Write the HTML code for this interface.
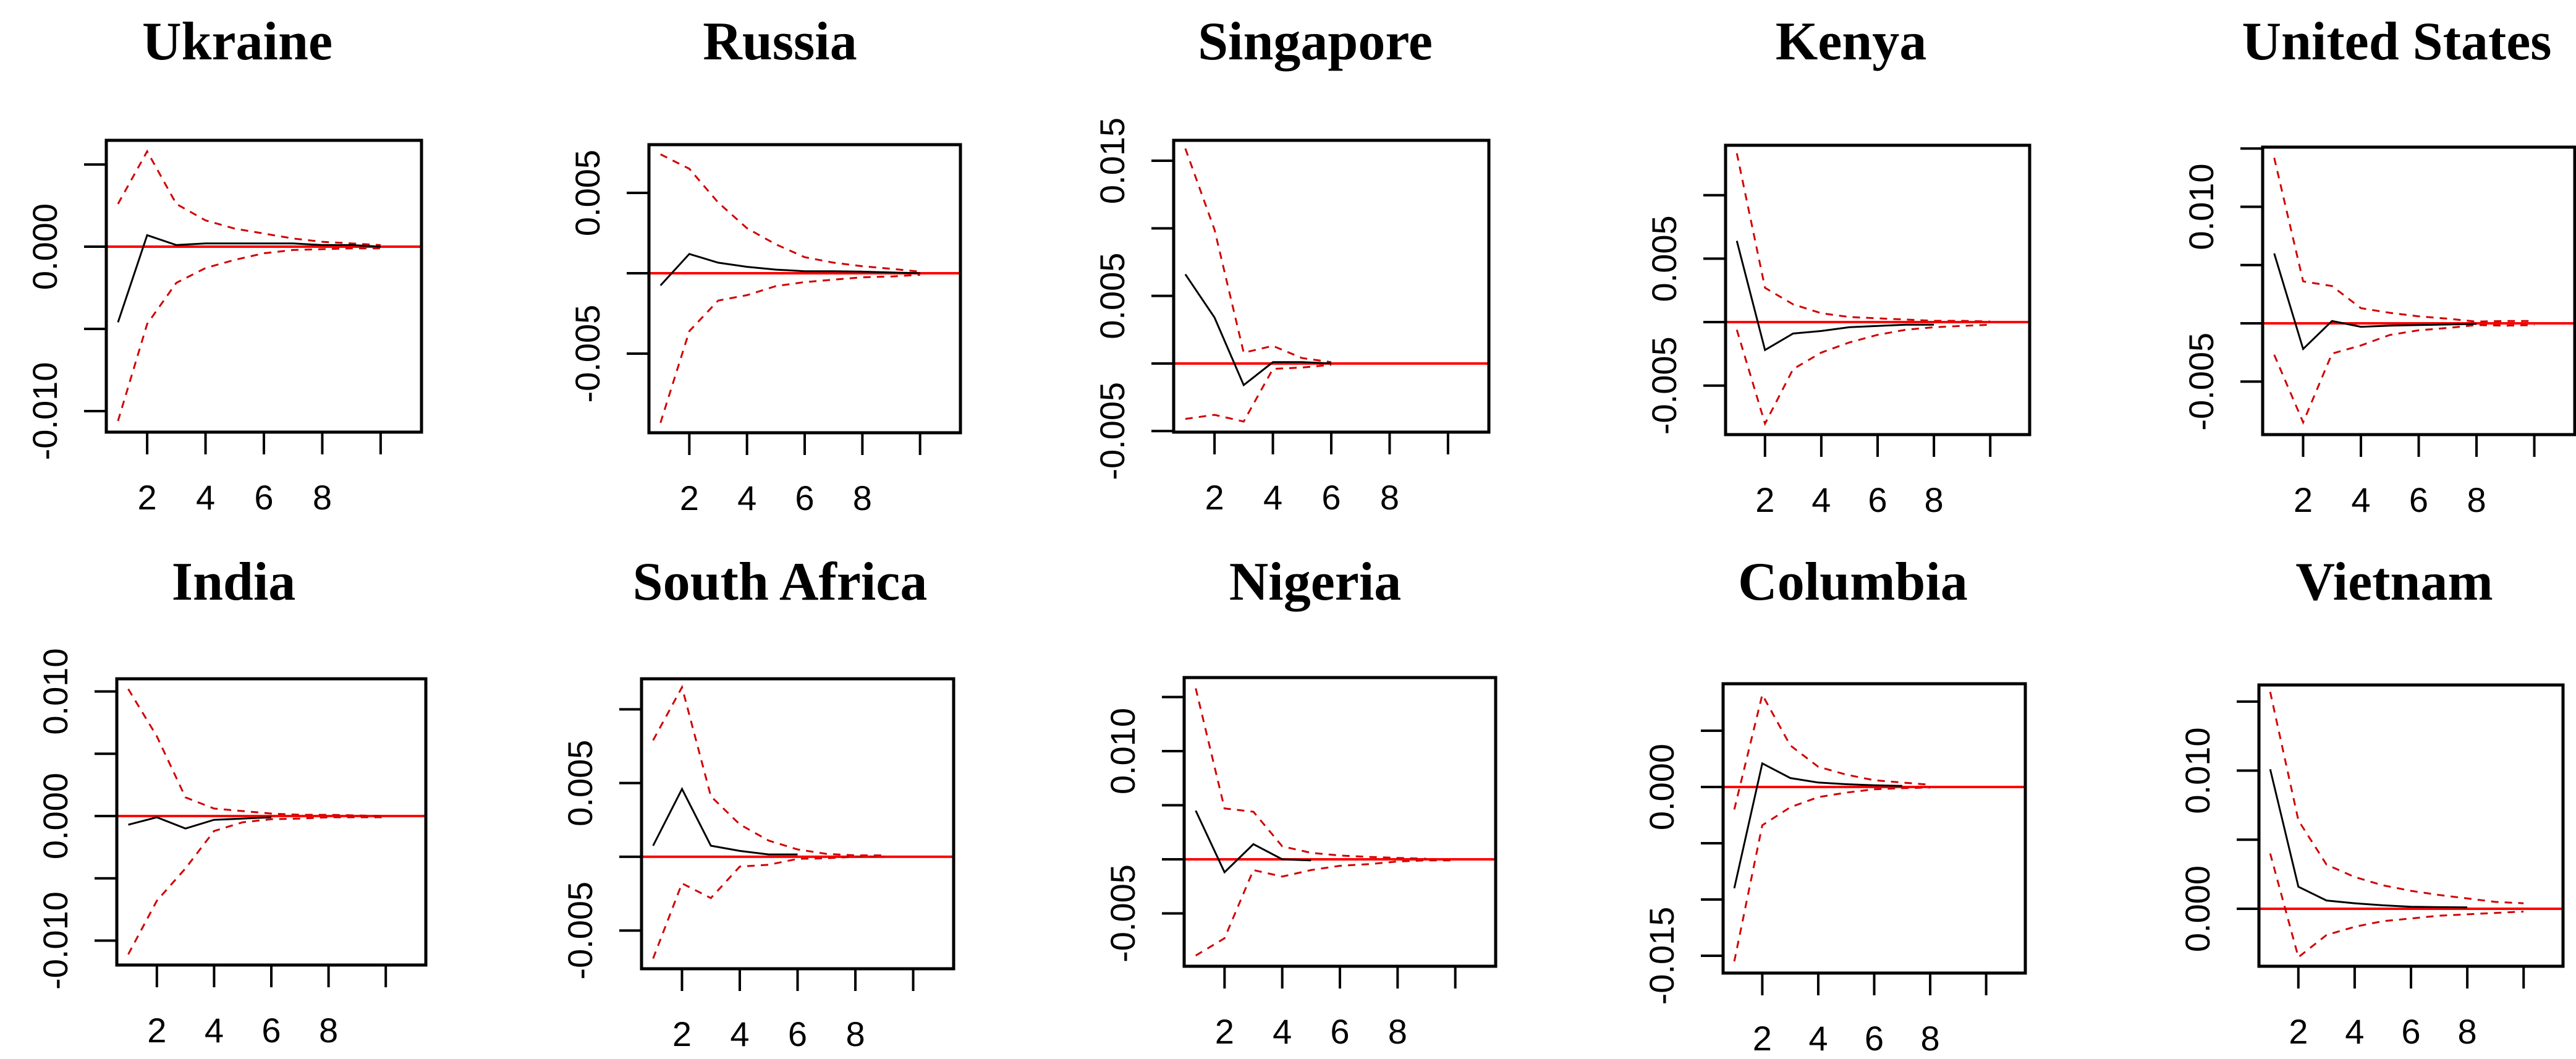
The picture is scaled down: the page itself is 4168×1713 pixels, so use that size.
<!DOCTYPE html>
<html><head><meta charset="utf-8"><style>
html,body{margin:0;padding:0;background:#fff;}
svg{display:block;}
</style></head><body>
<svg id="fig" width="4168" height="1713" viewBox="0 0 4168 1713" xmlns="http://www.w3.org/2000/svg">
<rect width="4168" height="1713" fill="#fff"/>
</svg>
<script>
const countries = ["Ukraine","Russia","Singapore","Kenya","United States","India","South Africa","Nigeria","Columbia","Vietnam"];
const periods = [1,2,3,4,5,6,7,8,9,10];
const xTicks = [2,4,6,8,10];
const xTickLabels = ["2","4","6","8",""];
const respUkraine = [-0.0046,0.0007,0.0001,0.0002,0.0002,0.0002,0.0002,0.0001,0.0001,0.0];
const upUkraine = [0.0026,0.0058,0.0026,0.0016,0.0011,0.0008,0.0005,0.0003,0.0002,0.0001];
const loUkraine = [-0.0106,-0.0047,-0.0022,-0.0013,-0.0008,-0.0004,-0.0002,-0.00015,-0.0001,-0.0001];
const respRussia = [-0.00076,0.0012,0.00066,0.0004,0.00023,0.00013,0.00013,0.0001,0.00005,0.0];
const upRussia = [0.0074,0.0065,0.0044,0.0028,0.0018,0.001,0.00066,0.00044,0.00028,0.0001];
const loRussia = [-0.0093,-0.0036,-0.0017,-0.00136,-0.0008,-0.00055,-0.0004,-0.00025,-0.0002,-0.0001];
const respSingapore = [0.0066,0.0034,-0.0016,0.0001,0.0001,0.0];
const upSingapore = [0.0159,0.0099,0.0008,0.0013,0.0004,0.0001];
const loSingapore = [-0.0041,-0.0038,-0.0043,-0.0004,-0.0003,-0.0001];
const respKenya = [0.0064,-0.0022,-0.0009,-0.0007,-0.0004,-0.0003,-0.0002,-0.0002];
const upKenya = [0.0133,0.0027,0.0014,0.0007,0.0004,0.0003,0.0002,0.0001,0.0001,0.00005];
const loKenya = [-0.0006,-0.008,-0.0037,-0.0024,-0.0016,-0.001,-0.0006,-0.0004,-0.0003,-0.0002];
const respUS = [0.006,-0.0022,0.0002,-0.0003,-0.0002,-0.00015,-0.0001,-0.00005];
const upUS = [0.0142,0.0036,0.0032,0.0013,0.0009,0.0006,0.0004,0.00015,0.0002,0.0002];
const loUS = [-0.0027,-0.0085,-0.0026,-0.0019,-0.001,-0.0006,-0.0004,-0.00015,-0.0002,-0.00015];
const respIndia = [-0.0007,-0.0001,-0.001,-0.0003,-0.0002,-0.0001];
const upIndia = [0.0102,0.0064,0.0015,0.0006,0.0004,0.0002,0.0001,0.0001,0.00005,0.0];
const loIndia = [-0.0111,-0.0068,-0.0042,-0.0012,-0.0005,-0.00025,-0.0002,-0.0001,-0.0001,-0.0001];
const respSAfrica = [0.00075,0.0046,0.00075,0.0004,0.00016,0.00016];
const upSAfrica = [0.0079,0.0115,0.0041,0.0022,0.0011,0.0005,0.0002,0.0001,0.0001];
const loSAfrica = [-0.0069,-0.0018,-0.0028,-0.00066,-0.00054,-0.00014,-0.0001,0.0,0.0];
const respNigeria = [0.0045,-0.0012,0.0014,0.0,-0.0001];
const upNigeria = [0.0158,0.0047,0.0044,0.0012,0.0006,0.00035,0.00022,0.00013,0.00005];
const loNigeria = [-0.0089,-0.0073,-0.001,-0.0016,-0.001,-0.0006,-0.00045,-0.0002,-0.0001,-0.0001];
const respColumbia = [-0.009,0.0021,0.0008,0.0004,0.00025,0.00015,0.0001];
const upColumbia = [-0.002,0.0082,0.0037,0.0018,0.0011,0.0006,0.0004,0.0002];
const loColumbia = [-0.0155,-0.0034,-0.0018,-0.0009,-0.0005,-0.0002,-0.0001,-0.00005];
const respVietnam = [0.0101,0.0016,0.0006,0.0004,0.00025,0.00015,0.00012,0.0001];
const upVietnam = [0.0157,0.0064,0.0032,0.0023,0.0017,0.0013,0.001,0.00075,0.0005,0.0004];
const loVietnam = [0.004,-0.0035,-0.0019,-0.0013,-0.0009,-0.0007,-0.0005,-0.0004,-0.0003,-0.0002];
const responses = [respUkraine,respRussia,respSingapore,respKenya,respUS,respIndia,respSAfrica,respNigeria,respColumbia,respVietnam];
const uppers = [upUkraine,upRussia,upSingapore,upKenya,upUS,upIndia,upSAfrica,upNigeria,upColumbia,upVietnam];
const lowers = [loUkraine,loRussia,loSingapore,loKenya,loUS,loIndia,loSAfrica,loNigeria,loColumbia,loVietnam];
const yDomLo = [-0.01128,-0.00992,-0.00508,-0.00886,-0.00955,-0.01196,-0.00759,-0.00989,-0.01654,-0.00416];
const yDomHi = [0.00647,0.0080,0.01651,0.01393,0.01512,0.01102,0.01207,0.0168,0.00918,0.0162];
const yTickVals = [
 [0.005,0,-0.005,-0.010],
 [0.005,0,-0.005],
 [0.015,0.010,0.005,0,-0.005],
 [0.010,0.005,0,-0.005],
 [0.015,0.010,0.005,0,-0.005],
 [0.010,0.005,0,-0.005,-0.010],
 [0.010,0.005,0,-0.005],
 [0.015,0.010,0.005,0,-0.005],
 [0.005,0,-0.005,-0.010,-0.015],
 [0.015,0.010,0.005,0]];
const yTickLabeled = [
 ["","0.000","","-0.010"],
 ["0.005","","-0.005"],
 ["0.015","","0.005","","-0.005"],
 ["","0.005","","-0.005"],
 ["","0.010","","","-0.005"],
 ["0.010","","0.000","","-0.010"],
 ["","0.005","","-0.005"],
 ["","0.010","","","-0.005"],
 ["","0.000","","","-0.015"],
 ["","0.010","","0.000"]];
// layout (not data)
const boxes = [[172,227,682,699],[1050,234,1554,700],[1899,227,2409,699],[2792,235,3284,703],[3661,238,4166,703],
 [189,1098,689,1561],[1038,1098,1543,1567],[1916,1096,2420,1563],[2788,1106,3277,1574],[3655,1108,4147,1563]];
const titleX = [384,1262,2128,2995,3878,378,1262,2128,2998,3874];
const titleY = [96,96,96,96,96,970,970,970,970,970];

const NS = "http://www.w3.org/2000/svg";
const svg = document.getElementById('fig');
function mk(tag, attrs, parent){ const e=document.createElementNS(NS,tag); for(const k in attrs) e.setAttribute(k,attrs[k]); parent.appendChild(e); return e; }
const slug = s => s.toLowerCase().replace(/\s+/g,'-');

countries.forEach((c,i)=>{
  const [x0,y0,x1,y1] = boxes[i];
  const xs = v => x0 + (v-0.6)/(11.4-0.6)*(x1-x0);
  const ys = v => y1 - (v-yDomLo[i])/(yDomHi[i]-yDomLo[i])*(y1-y0);
  const g = mk('g',{},svg);
  
  
  const t = mk('text',{x:titleX[i],y:titleY[i],'text-anchor':'middle','font-family':'"Liberation Serif", serif','font-weight':'bold','font-size':88,fill:'#000'},g);
  t.textContent = c;
  
  
  const z = mk('line',{x1:x0,x2:x1,y1:ys(0),y2:ys(0),stroke:'#ff0000','stroke-width':4},g);
  
  
  const path = arr => arr.map((v,k)=>(k?'L':'M')+xs(periods[k]).toFixed(1)+','+ys(v).toFixed(1)).join(' ');
  const up = mk('path',{d:path(uppers[i]),fill:'none',stroke:'#d00000','stroke-width':3,'stroke-dasharray':'12 10'},g);
  
  
  const lo = mk('path',{d:path(lowers[i]),fill:'none',stroke:'#d00000','stroke-width':3,'stroke-dasharray':'12 10'},g);
  
  
  const rs = mk('path',{d:path(responses[i]),fill:'none',stroke:'#000','stroke-width':3},g);
  
  
  const b = mk('rect',{x:x0,y:y0,width:x1-x0,height:y1-y0,fill:'none',stroke:'#000','stroke-width':5},g);
  
  
  xTicks.forEach((v,k)=>{
    const tk = mk('line',{x1:xs(v),x2:xs(v),y1:y1,y2:y1+36,stroke:'#000','stroke-width':4},g);
    
    
    if(xTickLabels[k]){
      const tl = mk('text',{x:xs(v),y:y1+125,'text-anchor':'middle','font-family':'"Liberation Sans", sans-serif','font-size':56,fill:'#000'},g);
      tl.textContent = xTickLabels[k];
      
      
    }
  });
  yTickVals[i].forEach((v,k)=>{
    const yy = ys(v);
    const tk = mk('line',{x1:x0-36,x2:x0,y1:yy,y2:yy,stroke:'#000','stroke-width':4},g);
    
    
    const lab = yTickLabeled[i][k];
    if(lab){
      const lx = x0-80;
      const tl = mk('text',{x:lx,y:yy,'text-anchor':'middle','font-family':'"Liberation Sans", sans-serif','font-size':56,fill:'#000',transform:'rotate(-90 '+lx+' '+yy+')'},g);
      tl.textContent = lab;
      
      
    }
  });
});
</script>
</body></html>
